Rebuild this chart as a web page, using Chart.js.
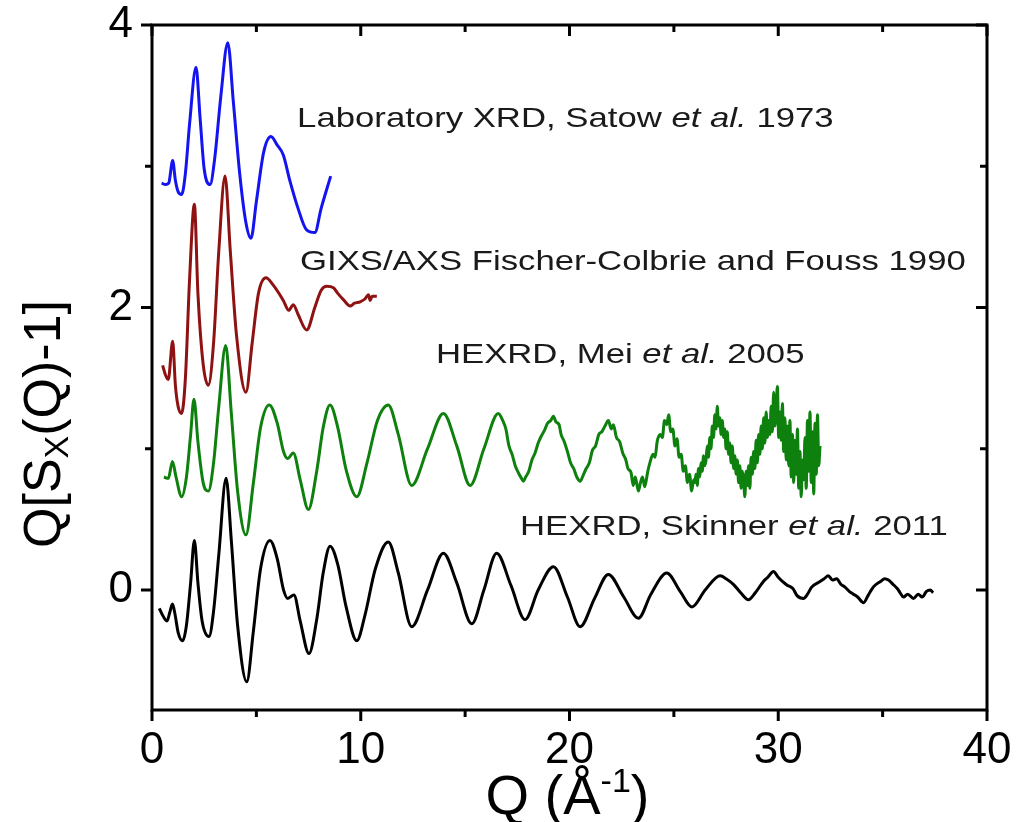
<!DOCTYPE html>
<html>
<head>
<meta charset="utf-8">
<script src="https://cdn.jsdelivr.net/npm/chart.js@4.4.1/dist/chart.umd.min.js"></script>
<style>
html,body{margin:0;padding:0;background:#fff;}
#wrap{width:1025px;height:822px;position:relative;}
</style>
</head>
<body>
<div id="wrap"><canvas id="c" width="1025" height="822"></canvas></div>
<script>
// ---- tick labels ----
const xTicks = [0, 10, 20, 30, 40];
const xMinorTicks = [5, 15, 25, 35];
const yTicks = [0, 2, 4];
const yMinorTicks = [1, 3];

// ---- Laboratory XRD, Satow et al. 1973 (blue) ----
const qBlue = [0.46,0.65,0.80,0.99,1.12,1.25,1.42,1.6,1.8,2.11,2.3,2.5,2.78,3.0,3.3,3.63,3.9,4.2,4.5,4.74,5.0,5.35,5.70,6.0,6.29,6.6,7.0,7.4,7.8,8.1,8.56];
const vBlue = [2.88,2.87,2.88,3.04,2.90,2.82,2.80,2.95,3.30,3.70,3.35,2.98,2.87,3.05,3.50,3.875,3.45,2.95,2.60,2.49,2.75,3.10,3.21,3.15,3.08,2.90,2.70,2.55,2.53,2.70,2.93];

// ---- GIXS/AXS Fischer-Colbrie and Fouss 1990 (dark red) ----
const qRed = [0.51,0.65,0.78,0.99,1.12,1.25,1.42,1.6,1.8,2.03,2.2,2.45,2.70,2.95,3.2,3.50,3.75,4.05,4.50,4.8,5.1,5.46,5.8,6.29,6.55,6.77,7.0,7.41,7.8,8.1,8.37,8.69,8.9,9.2,9.49,9.7,9.97,10.2,10.37,10.45,10.55,10.77];
const vRed = [1.59,1.52,1.49,1.76,1.45,1.30,1.25,1.50,2.20,2.73,2.10,1.60,1.45,1.75,2.40,2.93,2.40,1.80,1.40,1.75,2.10,2.21,2.16,2.05,1.98,2.02,1.95,1.84,2.00,2.12,2.15,2.14,2.10,2.05,2.01,2.03,2.04,2.06,2.09,2.05,2.08,2.08];

// ---- HEXRD, Mei et al. 2005 (green) ----
const qGreen = [0.57,0.78,0.98,1.15,1.42,1.65,1.85,2.01,2.2,2.45,2.70,2.95,3.2,3.53,3.8,4.1,4.50,4.85,5.2,5.62,6.0,6.3,6.5,6.77,7.1,7.49,7.9,8.2,8.53,8.9,9.3,9.81,10.3,10.8,11.32,11.8,12.44,13.2,13.96,14.6,15.24,15.9,16.59,
16.8,16.95,17.1,17.25,17.4,17.55,17.7,17.79,17.9,18.05,18.2,18.35,18.5,18.65,18.8,18.95,19.1,19.23,19.35,19.5,19.6,19.75,19.9,20.05,20.2,20.35,20.51,20.65,20.8,20.95,21.1,21.25,21.4,21.55,21.7,21.86,
22.0,22.1,22.25,22.4,22.55,22.7,22.8,22.95,23.05,23.15,23.3,23.4,23.5,23.6,23.75,23.85,24.0,24.1,24.2,24.35,24.45,24.55,24.66,24.75,24.85,24.95,25.05,25.15,25.25,25.35,25.45,25.55,25.65,25.75,25.85,25.95,
26.00,26.06,26.12,26.18,26.24,26.30,26.36,26.42,26.48,26.54,26.60,26.66,26.72,26.78,26.84,26.90,26.96,27.02,27.08,27.14,27.20,27.26,27.32,27.38,27.44,27.50,27.56,27.62,27.68,27.74,27.80,27.86,27.92,27.98,
28.04,28.10,28.16,28.22,28.28,28.34,28.40,28.46,28.52,28.58,28.64,28.70,28.76,28.82,28.88,28.94,29.00,29.06,29.12,29.18,29.24,29.30,29.36,29.42,29.48,29.54,29.60,29.66,29.72,29.78,29.84,29.90,29.96,
30.02,30.08,30.14,30.20,30.26,30.32,30.38,30.44,30.50,30.56,30.62,30.68,30.74,30.80,30.86,30.92,30.98,31.04,31.10,31.16,31.22,31.28,31.34,31.40,31.46,31.52,31.58,31.64,31.70,31.76,31.82,31.88,31.94,32.00];
const vGreen = [0.80,0.79,0.91,0.80,0.66,0.80,1.10,1.35,1.05,0.76,0.70,0.90,1.30,1.73,1.25,0.70,0.39,0.75,1.15,1.31,1.18,0.98,0.93,0.97,0.78,0.57,0.85,1.15,1.31,1.15,0.85,0.66,0.90,1.20,1.31,1.10,0.74,1.00,1.25,1.02,0.74,1.00,1.25,
1.20,1.14,1.02,0.96,0.88,0.83,0.79,0.77,0.80,0.84,0.92,0.97,1.04,1.09,1.13,1.18,1.20,1.23,1.19,1.17,1.10,1.05,0.98,0.90,0.86,0.80,0.77,0.81,0.86,0.90,0.99,1.02,1.10,1.12,1.16,1.20,
1.14,1.17,1.08,1.05,0.97,0.92,0.86,0.83,0.74,0.80,0.70,0.76,0.80,0.73,0.84,0.90,0.96,0.94,1.05,1.10,1.08,1.20,1.17,1.24,1.12,1.14,1.02,1.07,0.94,0.96,0.84,0.88,0.76,0.82,0.70,0.78,
0.76,0.82,0.74,0.86,0.80,0.90,0.84,0.95,0.88,0.92,1.02,0.94,1.08,1.00,1.16,1.08,1.24,1.14,1.30,1.16,1.22,1.10,1.20,1.08,1.14,1.00,1.12,0.96,1.04,0.90,1.02,0.86,0.95,0.82,
0.92,0.76,0.88,0.72,0.84,0.78,0.66,0.84,0.74,0.88,0.72,0.94,0.82,0.98,0.86,1.06,0.90,1.10,0.96,1.16,1.00,1.22,1.04,1.26,1.08,1.20,1.10,1.30,1.12,1.40,1.16,1.30,1.44,
1.08,1.26,1.06,1.32,0.98,1.22,0.92,1.16,0.88,1.20,0.80,1.10,0.76,1.06,0.82,1.14,0.72,0.98,0.66,0.92,0.78,1.08,0.72,1.20,0.84,1.26,0.76,1.12,0.68,1.18,0.82,1.24,0.88,1.02];

// ---- HEXRD, Skinner et al. 2011 (black) ----
const qBlack = [0.35,0.55,0.72,0.85,0.98,1.10,1.25,1.47,1.65,1.85,2.03,2.2,2.4,2.73,2.95,3.2,3.55,3.8,4.1,4.54,4.85,5.2,5.65,6.0,6.3,6.5,6.8,7.1,7.52,7.9,8.2,8.53,8.9,9.3,9.81,10.2,10.7,11.32,11.8,12.44,13.2,13.96,14.6,15.32,15.9,16.51,17.2,17.87,18.5,19.23,19.9,20.51,21.2,21.86,22.6,23.30,23.9,24.66,25.3,25.86,26.5,
27.22,27.5,27.85,28.2,28.57,28.9,29.29,29.5,29.77,30.0,30.2,30.41,30.7,30.9,31.21,31.4,31.6,32.0,32.2,32.4,32.6,32.8,33.0,33.2,33.4,33.6,33.8,34.09,34.3,34.5,34.65,34.9,35.1,35.28,35.5,35.7,35.84,36.0,36.2,36.48,36.7,36.9,37.1,37.28,37.42];
const vBlack = [-0.13,-0.19,-0.22,-0.16,-0.10,-0.17,-0.30,-0.36,-0.25,0.05,0.35,0.05,-0.22,-0.33,-0.15,0.25,0.79,0.35,-0.25,-0.65,-0.30,0.15,0.35,0.22,0.00,-0.06,-0.035,-0.22,-0.45,-0.20,0.12,0.31,0.18,-0.12,-0.36,-0.18,0.15,0.34,0.12,-0.26,0.00,0.26,0.05,-0.24,0.00,0.26,0.03,-0.21,0.00,0.165,-0.05,-0.26,-0.06,0.11,-0.05,-0.20,-0.03,0.12,-0.01,-0.12,0.00,
0.10,0.08,0.04,-0.02,-0.07,-0.02,0.06,0.09,0.13,0.09,0.06,0.035,0.01,-0.04,-0.06,-0.03,0.02,0.06,0.08,0.10,0.07,0.08,0.04,0.02,-0.01,-0.03,-0.05,-0.09,-0.04,0.01,0.035,0.06,0.08,0.07,0.04,0.01,-0.02,-0.05,-0.03,-0.06,-0.03,-0.05,-0.01,0.00,-0.02];

const toPts = (q, v) => q.map((x, i) => ({x: x, y: v[i]}));

const FONT = "'Liberation Sans', Arial, sans-serif";

const decorPlugin = {
  id: 'decor',
  afterDraw(chart) {
    const ctx = chart.ctx;
    const a = chart.chartArea;
    const xs = chart.scales.x, ys = chart.scales.y;
    ctx.save();
    ctx.strokeStyle = '#000';
    ctx.lineWidth = 3;
    ctx.strokeRect(a.left, a.top, a.right - a.left, a.bottom - a.top);
    const majL = 11, minL = 7;
    ctx.beginPath();
    xTicks.forEach(t => {
      const px = xs.getPixelForValue(t);
      ctx.moveTo(px, a.bottom); ctx.lineTo(px, a.bottom + majL);
      ctx.moveTo(px, a.top); ctx.lineTo(px, a.top + majL);
    });
    xMinorTicks.forEach(t => {
      const px = xs.getPixelForValue(t);
      ctx.moveTo(px, a.bottom); ctx.lineTo(px, a.bottom + minL);
      ctx.moveTo(px, a.top); ctx.lineTo(px, a.top + minL);
    });
    yTicks.forEach(t => {
      const py = ys.getPixelForValue(t);
      ctx.moveTo(a.left - majL, py); ctx.lineTo(a.left, py);
      ctx.moveTo(a.right - majL, py); ctx.lineTo(a.right, py);
    });
    yMinorTicks.forEach(t => {
      const py = ys.getPixelForValue(t);
      ctx.moveTo(a.left - minL, py); ctx.lineTo(a.left, py);
      ctx.moveTo(a.right - minL, py); ctx.lineTo(a.right, py);
    });
    ctx.stroke();

    // annotations
    const ann = [
      {q: 6.95, v: 3.33, parts: [['Laboratory XRD, Satow ', ''], ['et al.', 'italic '], [' 1973', '']]},
      {q: 7.09, v: 2.32, parts: [['GIXS/AXS Fischer-Colbrie and Fouss 1990', '']]},
      {q: 13.6, v: 1.66, parts: [['HEXRD, Mei ', ''], ['et al.', 'italic '], [' 2005', '']]},
      {q: 17.63, v: 0.446, parts: [['HEXRD, Skinner ', ''], ['et al.', 'italic '], [' 2011', '']]}
    ];
    ctx.fillStyle = '#1a1a1a';
    ctx.textBaseline = 'middle';
    ctx.textAlign = 'left';
    ann.forEach(an => {
      const px0 = xs.getPixelForValue(an.q);
      const py = ys.getPixelForValue(an.v);
      ctx.save();
      ctx.translate(px0, py);
      ctx.scale(1.24, 1);
      let px = 0;
      an.parts.forEach(p => {
        ctx.font = p[1] + '28px ' + FONT;
        ctx.fillText(p[0], px, 0);
        px += ctx.measureText(p[0]).width;
      });
      ctx.restore();
    });

    // x-axis title: Q (Å^-1)
    ctx.fillStyle = '#000';
    ctx.textBaseline = 'alphabetic';
    const big = '56px ' + FONT, sup = '34px ' + FONT;
    ctx.font = big; const w1 = ctx.measureText('Q (Å').width; const w3 = ctx.measureText(')').width;
    ctx.font = sup; const w2 = ctx.measureText('-1').width;
    let sx = (a.left + a.right) / 2 - (w1 + w2 + w3) / 2 - 2;
    const by = 814;
    ctx.font = big; ctx.fillText('Q (Å', sx, by); sx += w1;
    ctx.font = sup; ctx.fillText('-1', sx, by - 22); sx += w2;
    ctx.font = big; ctx.fillText(')', sx, by);

    // y-axis title: Q[S_X(Q)-1]
    ctx.save();
    ctx.translate(60, 424);
    ctx.rotate(-Math.PI / 2);
    const yb = '52px ' + FONT, ys2 = '34px ' + FONT;
    ctx.font = yb; const t1 = ctx.measureText('Q[S').width; const t3 = ctx.measureText('(Q)-1]').width;
    ctx.font = ys2; const t2 = ctx.measureText('X').width;
    let tx = -(t1 + t2 + t3) / 2;
    ctx.font = yb; ctx.fillText('Q[S', tx, 0); tx += t1;
    ctx.font = ys2; ctx.fillText('X', tx, 8); tx += t2;
    ctx.font = yb; ctx.fillText('(Q)-1]', tx, 0);
    ctx.restore();

    ctx.restore();
  }
};

const common = {pointRadius: 0, borderWidth: 3, fill: false, cubicInterpolationMode: 'monotone'};

new Chart(document.getElementById('c'), {
  type: 'line',
  data: {
    datasets: [
      Object.assign({label: 'Laboratory XRD, Satow et al. 1973', data: toPts(qBlue, vBlue), borderColor: '#1414F0'}, common),
      Object.assign({label: 'GIXS/AXS Fischer-Colbrie and Fouss 1990', data: toPts(qRed, vRed), borderColor: '#8E1212'}, common),
      Object.assign({label: 'HEXRD, Mei et al. 2005', data: toPts(qGreen, vGreen), borderColor: '#0E800E'}, common),
      Object.assign({label: 'HEXRD, Skinner et al. 2011', data: toPts(qBlack, vBlack), borderColor: '#000000'}, common)
    ]
  },
  options: {
    responsive: false,
    animation: false,
    devicePixelRatio: 1,
    layout: {padding: {top: 25, right: 38, left: 0, bottom: 0}},
    plugins: {legend: {display: false}, tooltip: {enabled: false}, title: {display: false}},
    scales: {
      x: {
        type: 'linear', min: 0, max: 40,
        afterFit(s) { s.height = 112; s.paddingLeft = 0; s.paddingRight = 0; },
        afterBuildTicks(s) { s.ticks = xTicks.map(v => ({value: v})); },
        grid: {display: false, drawTicks: false},
        border: {display: false},
        ticks: {padding: 14, color: '#000', font: {family: "'Liberation Sans', Arial", size: 44}, maxRotation: 0}
      },
      y: {
        type: 'linear', min: -0.85, max: 4,
        afterFit(s) { s.width = 152; s.paddingTop = 0; s.paddingBottom = 0; },
        afterBuildTicks(s) { s.ticks = yTicks.map(v => ({value: v})); },
        grid: {display: false, drawTicks: false},
        border: {display: false},
        ticks: {padding: 19, color: '#000', font: {family: "'Liberation Sans', Arial", size: 44}}
      }
    }
  },
  plugins: [decorPlugin]
});
</script>
</body>
</html>
